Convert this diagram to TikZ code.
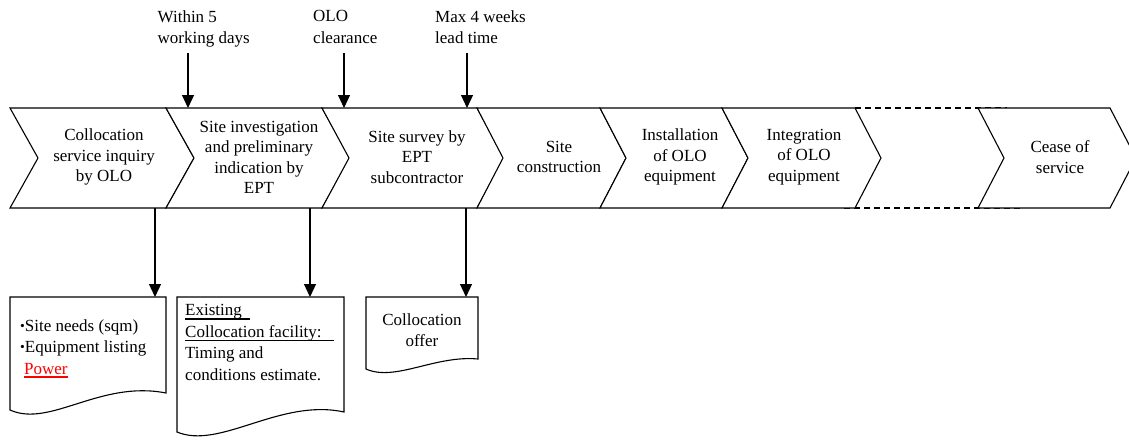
\documentclass[tikz,border=0pt]{standalone}
\usepackage{fontspec}
\setmainfont{Liberation Serif}
\usetikzlibrary{arrows.meta}
\newsavebox\myulbox
\newcommand\thul[1]{\sbox\myulbox{#1}\rlap{\raisebox{-3.6pt}{\rule{\wd\myulbox}{1.3pt}}}\usebox\myulbox}
\newcommand\smbul{\raisebox{0.8pt}{\scalebox{0.8}{\textbullet}}}
\begin{document}
\begin{tikzpicture}[x=1pt,y=-1pt,
  shapeline/.style={draw=black, line width=1.1pt, line join=miter},
  lbl/.style={font=\fontsize{17}{20.5}\selectfont, align=center, inner sep=0pt},
  toplbl/.style={font=\fontsize{17}{21.5}\selectfont, align=left, inner sep=0pt, anchor=north west},
  dtext/.style={font=\fontsize{17}{21.5}\selectfont, align=left, inner sep=0pt, anchor=north west},
  arr/.style={line width=1.2pt, -{Triangle[length=13pt,width=12pt]}},
  dashline/.style={line width=1.1pt, dash pattern=on 6pt off 4pt}]
\useasboundingbox (0,0) rectangle (1129,442);
\clip (0,0) rectangle (1129,442);

% dashed continuation
\draw[dashline] (855,108) -- (1007,108);
\draw[dashline] (844,208) -- (1022,208);

% chevrons: left / right / tip offset
\foreach \L/\R/\d in {10/166/28, 166/322/28, 322/477/27, 477/600/26, 600/722/26, 722/855/26, 978/1110/26}{
  \draw[shapeline, fill=white] (\L,108) -- (\R,108) -- ({\R+\d},158) -- (\R,208) -- (\L,208) -- ({\L+\d},158) -- cycle;
}

% chevron labels
\node[lbl] (c1) at (104,157) {Collocation\\service inquiry\\by OLO};
\node[lbl] (c2) at (259,157.5) {Site investigation\\and preliminary\\indication by\\EPT};
\node[lbl] (c3) at (417,157) {Site survey by\\EPT\\subcontractor};
\node[lbl] (c4) at (559,157) {Site\\construction};
\node[lbl] (c5) at (680,157) {Installation\\of OLO\\equipment};
\node[lbl] (c6) at (804,157) {Integration\\of OLO\\equipment};
\node[lbl] (c7) at (1060,157) {Cease of\\service};

% top labels
\node[toplbl] (t1) at (157.5,10.5) {Within 5\\working days};
\node[toplbl] (t2) at (313,10.5) {OLO\\clearance};
\node[toplbl] (t3) at (435,10.5) {Max 4 weeks\\lead time};

% top arrow coordinates
\coordinate (ta1) at (188,53);  \coordinate (tb1) at (188,108);
\coordinate (ta2) at (344,53);  \coordinate (tb2) at (344,108);
\coordinate (ta3) at (467,53);  \coordinate (tb3) at (467,108);
\draw[arr] (ta1) -- (tb1);
\draw[arr] (ta2) -- (tb2);
\draw[arr] (ta3) -- (tb3);

% documents
\draw[shapeline] (10,297) -- (166,297) -- (166,393)
  .. controls (100,380) and (50,428) .. (10,410) -- cycle;
\draw[shapeline] (177,297) -- (344,297) -- (344,412)
  .. controls (280,398) and (220,450) .. (177,432) -- cycle;
\draw[shapeline] (366,297) -- (478,297) -- (478,359)
  .. controls (435,355) and (395,382) .. (366,369) -- cycle;

\node[dtext] (d1) at (20,319) {\smbul Site needs (sqm)\\\smbul Equipment listing\\\hspace{4pt}\textcolor{red}{\thul{Power}}};
\node[dtext] (d2) at (185,304.5) {\thul{Existing\ \ }\\\thul{Collocation facility:\ \ \ }\\Timing and\\conditions estimate.};
\node[lbl, anchor=north, font=\fontsize{17}{21}\selectfont] (d3) at (422,313.5) {Collocation\\offer};

% bottom arrow coordinates
\coordinate (ba1) at (155,208);  \coordinate (bb1) at (155,297);
\coordinate (ba2) at (310,208);  \coordinate (bb2) at (310,297);
\coordinate (ba3) at (466,208);  \coordinate (bb3) at (466,297);
\draw[arr] (ba1) -- (bb1);
\draw[arr] (ba2) -- (bb2);
\draw[arr] (ba3) -- (bb3);
\end{tikzpicture}
\end{document}
